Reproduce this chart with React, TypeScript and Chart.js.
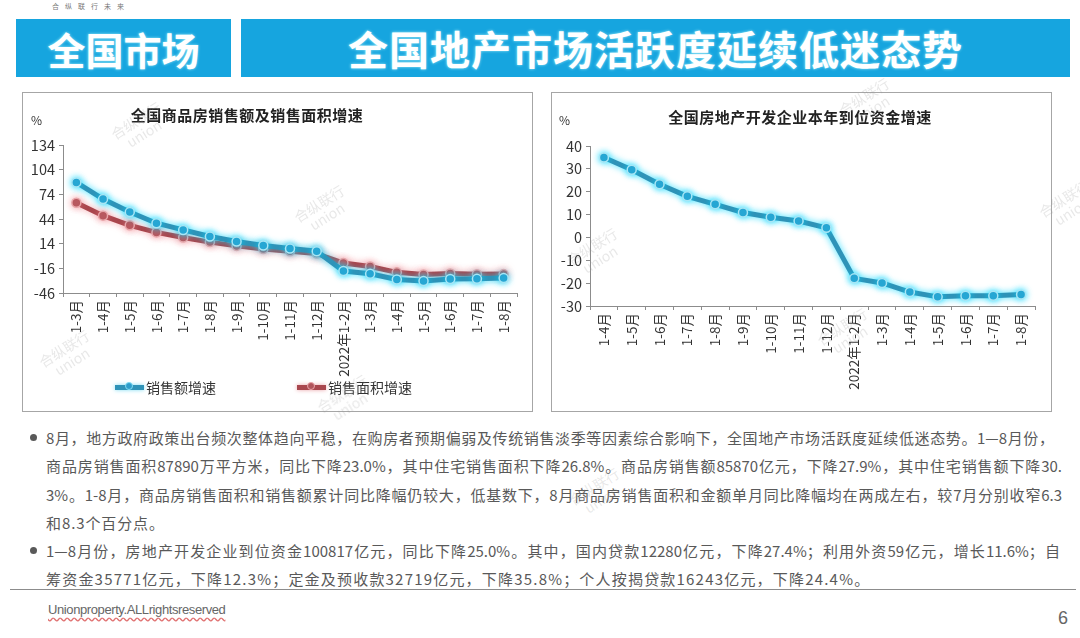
import React, { useEffect, useRef } from "react";
import { Chart, registerables } from "chart.js";

Chart.register(...registerables);

const FONT = '"Noto Sans CJK SC", "Noto Sans", sans-serif';

// ---------- data ----------
const salesLabels = ["1-3月", "1-4月", "1-5月", "1-6月", "1-7月", "1-8月", "1-9月", "1-10月", "1-11月", "1-12月", "2022年1-2月", "1-3月", "1-4月", "1-5月", "1-6月", "1-7月", "1-8月"];
const salesAmountGrowth = [88.5, 68.2, 52.4, 38.9, 30.7, 22.8, 16.6, 11.8, 8.0, 4.8, -19.3, -22.7, -29.5, -31.5, -28.9, -28.8, -27.9];
const salesAreaGrowth = [63.8, 48.1, 36.3, 27.7, 21.5, 15.9, 11.3, 7.5, 4.8, 1.9, -9.6, -13.8, -20.9, -23.6, -22.2, -23.1, -23.0];
const salesYTicks = [-46, -16, 14, 44, 74, 104, 134];

const fundLabels = ["1-4月", "1-5月", "1-6月", "1-7月", "1-8月", "1-9月", "1-10月", "1-11月", "1-12月", "2022年1-2月", "1-3月", "1-4月", "1-5月", "1-6月", "1-7月", "1-8月"];
const fundGrowth = [35.0, 29.6, 23.3, 18.0, 14.5, 10.9, 8.8, 7.2, 4.2, -17.9, -19.9, -23.9, -26.0, -25.5, -25.5, -25.0];
const fundYTicks = [-30, -20, -10, 0, 10, 20, 30, 40];

const bullet1Lines = [
  "8月，地方政府政策出台频次整体趋向平稳，在购房者预期偏弱及传统销售淡季等因素综合影响下，全国地产市场活跃度延续低迷态势。1—8月份，",
  "商品房销售面积87890万平方米，同比下降23.0%，其中住宅销售面积下降26.8%。商品房销售额85870亿元，下降27.9%，其中住宅销售额下降30.",
  "3%。1-8月，商品房销售面积和销售额累计同比降幅仍较大，低基数下，8月商品房销售面积和金额单月同比降幅均在两成左右，较7月分别收窄6.3",
  "和8.3个百分点。",
];
const bullet2Lines = [
  "1—8月份，房地产开发企业到位资金100817亿元，同比下降25.0%。其中，国内贷款12280亿元，下降27.4%；利用外资59亿元，增长11.6%；自",
  "筹资金35771亿元，下降12.3%；定金及预收款32719亿元，下降35.8%；个人按揭贷款16243亿元，下降24.4%。",
];

const BLUE = "#2F93B8";
const RED = "#A9474E";

const glowPlugin = {
  id: "glow",
  beforeDatasetDraw(chart: any, args: any) {
    const ds = chart.data.datasets[args.index];
    chart.ctx.save();
    chart.ctx.shadowColor = ds.glowColor || "transparent";
    chart.ctx.shadowBlur = 7;
  },
  afterDatasetDraw(chart: any) {
    chart.ctx.restore();
  },
};

function axisCommon(tickValues: number[], min: number, max: number, yWidth: number, xHeight: number) {
  return {
    x: {
      type: "category",
      offset: true,
      grid: { offset: true, drawOnChartArea: false, drawTicks: true, tickLength: 4, color: "#8c8c8c" },
      border: { color: "#8c8c8c", width: 1 },
      ticks: { minRotation: 90, maxRotation: 90, autoSkip: false, padding: 3, color: "#333", font: { size: 13.5, family: FONT } },
      afterFit: (s: any) => { s.height = xHeight; },
    },
    y: {
      min,
      max,
      afterBuildTicks: (s: any) => { s.ticks = tickValues.map((v) => ({ value: v })); },
      grid: { drawOnChartArea: false, drawTicks: true, tickLength: 4, color: "#8c8c8c" },
      border: { color: "#8c8c8c", width: 1 },
      ticks: { padding: 4, color: "#333", font: { size: 14.5, family: FONT } },
      afterFit: (s: any) => { s.width = yWidth; },
    },
  };
}

function lineDs(label: string, data: number[], color: string, pointFill: string, pointBorder: string, glow: string) {
  return {
    label,
    data,
    borderColor: color,
    backgroundColor: color,
    borderWidth: 5,
    pointRadius: 4.5,
    pointBackgroundColor: pointFill,
    pointBorderColor: pointBorder,
    pointBorderWidth: 1.5,
    tension: 0,
    glowColor: glow,
  };
}

function SalesChart() {
  const ref = useRef<HTMLCanvasElement | null>(null);
  useEffect(() => {
    if (!ref.current) return;
    const chart = new Chart(ref.current, {
      type: "line",
      data: {
        labels: salesLabels,
        datasets: [
          lineDs("销售额增速", salesAmountGrowth, BLUE, "#2E9DCB", "#A8E6F5", "rgba(0,215,255,0.8)"),
          lineDs("销售面积增速", salesAreaGrowth, RED, "#B0545B", "#E9A7AB", "rgba(240,120,130,0.6)"),
        ],
      } as any,
      options: {
        animation: false,
        responsive: false,
        layout: { padding: { top: 53, right: 15, left: 0, bottom: 0 } },
        plugins: { legend: { display: false }, tooltip: { enabled: false }, title: { display: false } },
        scales: axisCommon(salesYTicks, -46, 134, 41, 119) as any,
      },
      plugins: [glowPlugin],
    });
    return () => chart.destroy();
  }, []);
  return <canvas ref={ref} width={510} height={320} style={{ position: "absolute", left: 22, top: 92, width: 510, height: 320 }} />;
}

function FundChart() {
  const ref = useRef<HTMLCanvasElement | null>(null);
  useEffect(() => {
    if (!ref.current) return;
    const chart = new Chart(ref.current, {
      type: "line",
      data: {
        labels: fundLabels,
        datasets: [lineDs("本年到位资金增速", fundGrowth, BLUE, "#2E9DCB", "#A8E6F5", "rgba(0,215,255,0.8)")],
      } as any,
      options: {
        animation: false,
        responsive: false,
        layout: { padding: { top: 54, right: 16, left: 0, bottom: 0 } },
        plugins: { legend: { display: false }, tooltip: { enabled: false }, title: { display: false } },
        scales: axisCommon(fundYTicks, -30, 40, 39, 106) as any,
      },
      plugins: [glowPlugin],
    });
    return () => chart.destroy();
  }, []);
  return <canvas ref={ref} width={500} height={320} style={{ position: "absolute", left: 551, top: 92, width: 500, height: 320 }} />;
}

const abs = (l: number, t: number, extra: any = {}) => ({ position: "absolute" as const, left: l, top: t, ...extra });

function LegendItem({ left, top, color, fill, ring, text }: any) {
  return (
    <div style={abs(left, top, { display: "flex", alignItems: "center", height: 18 })}>
      <div style={{ position: "relative", width: 29, height: 5, background: color, boxShadow: `0 0 4px ${ring}` }}>
        <div style={{ position: "absolute", left: 10, top: -2.5, width: 8, height: 8, borderRadius: 5, background: fill, border: `1px solid ${ring}`, boxSizing: "border-box" }} />
      </div>
      <span style={{ marginLeft: 2, fontSize: 14, color: "#333", fontFamily: FONT, whiteSpace: "nowrap" }}>{text}</span>
    </div>
  );
}

function Watermark({ left, top }: any) {
  return (
    <div style={abs(left, top, { transform: "rotate(-32deg)", color: "rgba(150,150,150,0.22)", fontFamily: FONT, fontSize: 14, lineHeight: "15px", textAlign: "center", pointerEvents: "none", whiteSpace: "nowrap" })}>
      合纵联行<br />union
    </div>
  );
}

export default function App() {
  const textStyle = { fontFamily: FONT, fontSize: 15, color: "#595959", letterSpacing: "0.9px", whiteSpace: "nowrap" as const, lineHeight: "28.3px", height: 28.3 };
  const fullLine = (w: number) => ({ ...textStyle, width: w, textAlign: "justify" as const, textAlignLast: "justify" as const, letterSpacing: 0 });
  return (
    <div style={{ position: "absolute", left: 0, top: 0, width: 1080, height: 638, background: "#fff", overflow: "hidden", fontFamily: FONT }}>
      {/* top tiny text */}
      <div style={abs(52, 1, { fontSize: 7, color: "#777", letterSpacing: "6px", fontFamily: FONT })}>合纵联行未来</div>
      {/* header boxes */}
      <div style={abs(16, 19, { width: 215, height: 58, background: "#16A5DF", display: "flex", alignItems: "center", justifyContent: "center" })}>
        <span style={{ color: "#fff", fontSize: 38, fontWeight: 700, letterSpacing: "0px", textShadow: "0 0 3px rgba(200,255,255,0.8)" }}>全国市场</span>
      </div>
      <div style={abs(241, 19, { width: 829, height: 58, background: "#16A5DF", display: "flex", alignItems: "center", justifyContent: "center" })}>
        <span style={{ color: "#fff", fontSize: 40, fontWeight: 700, letterSpacing: "1px", textShadow: "0 0 3px rgba(200,255,255,0.8)" }}>全国地产市场活跃度延续低迷态势</span>
      </div>

      {/* left chart */}
      <SalesChart />
      <div style={abs(22, 92, { width: 511, height: 320, border: "1px solid #a6a6a6", boxSizing: "border-box", pointerEvents: "none" })} />
      <div style={abs(130, 104, { width: 234, textAlign: "center", fontSize: 15, fontWeight: 700, color: "#222", letterSpacing: "0.5px", whiteSpace: "nowrap" })}>全国商品房销售额及销售面积增速</div>
      <div style={abs(31, 111, { fontSize: 12, color: "#333" })}>%</div>
      <LegendItem left={115} top={378} color={BLUE} fill="#2E9DCB" ring="#7fdcf2" text="销售额增速" />
      <LegendItem left={297} top={378} color={RED} fill="#B0545B" ring="#eaa3a8" text="销售面积增速" />

      {/* right chart */}
      <FundChart />
      <div style={abs(551, 92, { width: 501, height: 320, border: "1px solid #a6a6a6", boxSizing: "border-box", pointerEvents: "none" })} />
      <div style={abs(666, 106, { width: 268, textAlign: "center", fontSize: 15, fontWeight: 700, color: "#222", letterSpacing: "0.5px", whiteSpace: "nowrap" })}>全国房地产开发企业本年到位资金增速</div>
      <div style={abs(559, 111, { fontSize: 12, color: "#333" })}>%</div>

      {/* bullets */}
      <div style={abs(30, 434, { width: 7, height: 7, borderRadius: 4, background: "#595959" })} />
      <div style={abs(30, 547, { width: 7, height: 7, borderRadius: 4, background: "#595959" })} />
      <div style={abs(46, 424)}>
        <div style={fullLine(1008)}>{bullet1Lines[0]}</div>
        <div style={fullLine(1016)}>{bullet1Lines[1]}</div>
        <div style={fullLine(1016)}>{bullet1Lines[2]}</div>
        <div style={textStyle}>{bullet1Lines[3]}</div>
        <div style={fullLine(1014)}>{bullet2Lines[0]}</div>
        <div style={{ ...textStyle, letterSpacing: "1.2px" }}>{bullet2Lines[1]}</div>
      </div>

      {/* footer */}
      <div style={abs(10, 589, { width: 1066, height: 1, background: "#8c8c8c" })} />
      <div style={abs(48, 602, { fontSize: 13, color: "#666", fontFamily: "'Liberation Sans', sans-serif", letterSpacing: "-0.4px", textDecoration: "underline wavy #e07070", textUnderlineOffset: "3px" })}>Unionproperty.ALLrightsreserved</div>
      <div style={abs(1058, 608, { fontSize: 18, color: "#666", fontFamily: "'Liberation Sans', sans-serif" })}>6</div>

      {/* watermarks */}
      <Watermark left={112} top={112} />
      <Watermark left={295} top={195} />
      <Watermark left={568} top={238} />
      <Watermark left={818} top={318} />
      <Watermark left={40} top={340} />
      <Watermark left={318} top={385} />
      <Watermark left={570} top={478} />
      <Watermark left={840} top={88} />
      <Watermark left={1040} top={190} />
    </div>
  );
}
